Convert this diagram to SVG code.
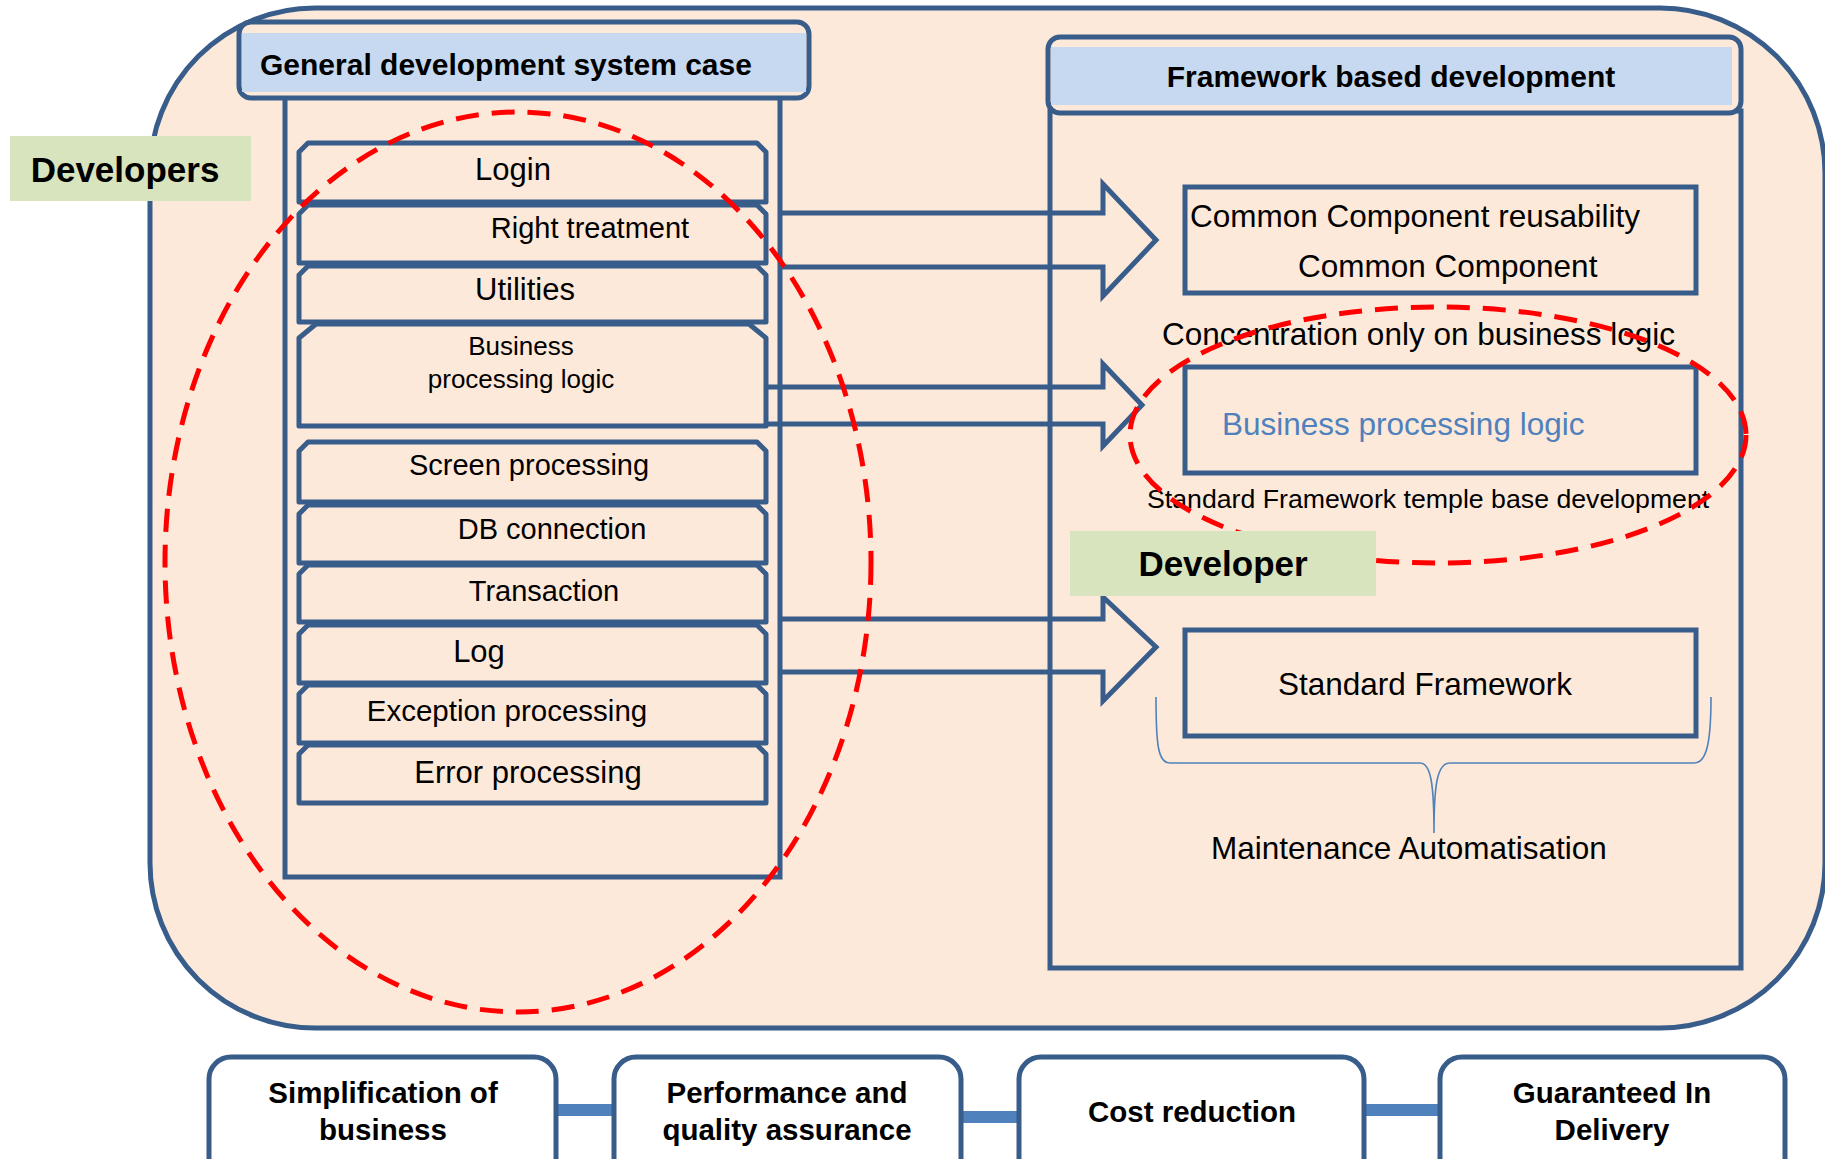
<svg xmlns="http://www.w3.org/2000/svg" width="1825" height="1159" viewBox="0 0 1825 1159">
<style>
  .bd{fill:#FDE9D9;stroke:#385D8A;stroke-width:5;stroke-linejoin:round}
  .ln{fill:none;stroke:#385D8A;stroke-width:5;stroke-linejoin:miter}
  .hd{fill:#C6D9F1}
  .lab{fill:#D7E4BD}
  .t{font-family:"Liberation Sans",Arial,sans-serif;fill:#000}
  .b{font-weight:bold}
  .red{fill:none;stroke:#FF0000;stroke-width:5;stroke-dasharray:23 13}
  .wb{fill:#FFFFFF;stroke:#385D8A;stroke-width:5}
  .bar{stroke:#4F81BD;stroke-width:12}
</style>
<rect width="1825" height="1159" fill="#FFFFFF"/>
<g id="background">
  <rect class="bd" x="150" y="8" width="1675" height="1020" rx="165" ry="165"/>
</g>
<g id="left-panel">
  <path class="ln" d="M285,98 L285,877 L780,877 L780,98"/>
  <rect class="bd" x="239" y="22" width="570" height="76" rx="12"/>
  <rect class="hd" x="242" y="33" width="564" height="59"/>
  <text class="t b" x="260" y="75" font-size="30">General development system case</text>
</g>
<g id="right-panel">
  <rect class="ln" x="1050" y="111" width="691" height="857"/>
  <rect class="bd" x="1048" y="37" width="693" height="76" rx="12"/>
  <rect class="hd" x="1051" y="47" width="681" height="58"/>
  <text class="t b" x="1391" y="87" font-size="30" text-anchor="middle">Framework based development</text>
</g>
<g id="item-login">
  <path class="bd" d="M299,202 L299,152 L308,143 L757,143 L766,152 L766,202 Z"/>
  <text class="t" x="513" y="180" font-size="31" text-anchor="middle">Login</text>
</g>
<g id="item-right-treatment">
  <path class="bd" d="M299,263 L299,214 L308,205 L757,205 L766,214 L766,263 Z"/>
  <text class="t" x="590" y="238" font-size="29" text-anchor="middle">Right treatment</text>
</g>
<g id="item-utilities">
  <path class="bd" d="M299,322 L299,275 L308,266 L757,266 L766,275 L766,322 Z"/>
  <text class="t" x="525" y="300" font-size="31" text-anchor="middle">Utilities</text>
</g>
<g id="item-business-logic">
  <path class="bd" d="M299,426 L299,338 L316,324 L749,324 L766,338 L766,426 Z"/>
  <text class="t" x="521" y="355" font-size="26" text-anchor="middle">Business</text>
  <text class="t" x="521" y="388" font-size="26" text-anchor="middle">processing logic</text>
</g>
<g id="item-screen">
  <path class="bd" d="M299,502 L299,451 L308,442 L757,442 L766,451 L766,502 Z"/>
  <text class="t" x="529" y="475" font-size="29" text-anchor="middle">Screen processing</text>
</g>
<g id="item-db">
  <path class="bd" d="M299,563 L299,514 L308,505 L757,505 L766,514 L766,563 Z"/>
  <text class="t" x="552" y="539" font-size="29" text-anchor="middle">DB connection</text>
</g>
<g id="item-transaction">
  <path class="bd" d="M299,622 L299,574 L308,565 L757,565 L766,574 L766,622 Z"/>
  <text class="t" x="544" y="601" font-size="29" text-anchor="middle">Transaction</text>
</g>
<g id="item-log">
  <path class="bd" d="M299,683 L299,634 L308,625 L757,625 L766,634 L766,683 Z"/>
  <text class="t" x="479" y="662" font-size="31" text-anchor="middle">Log</text>
</g>
<g id="item-exception">
  <path class="bd" d="M299,743 L299,694 L308,685 L757,685 L766,694 L766,743 Z"/>
  <text class="t" x="507" y="721" font-size="29.5" text-anchor="middle">Exception processing</text>
</g>
<g id="item-error">
  <path class="bd" d="M299,803 L299,754 L308,745 L757,745 L766,754 L766,803 Z"/>
  <text class="t" x="528" y="783" font-size="31" text-anchor="middle">Error processing</text>
</g>
<g id="connectors">
  <path class="ln" d="M780,213 L1103,213 L1103,184 L1156,240 L1103,296 L1103,267 L780,267"/>
  <path class="ln" d="M766,387 L1103,387 L1103,364 L1142,405 L1103,446 L1103,424 L766,424"/>
  <path class="ln" d="M780,619 L1103,619 L1103,597 L1156,647 L1103,701 L1103,672 L780,672"/>
  <path d="M1156,697 C1156,745 1158,763 1170,763 L1420,763 C1431,763 1434,785 1434,833 C1434,785 1437,763 1450,763 L1694,763 C1706,763 1711,745 1711,697" fill="none" stroke="#4F81BD" stroke-width="1.6"/>
  <line class="bar" x1="555" y1="1110" x2="614" y2="1110"/>
  <line class="bar" x1="960" y1="1117" x2="1020" y2="1117"/>
  <line class="bar" x1="1365" y1="1110" x2="1440" y2="1110"/>
</g>
<g id="common-component">
  <rect class="ln" x="1185" y="187" width="511" height="106"/>
  <text class="t" x="1190" y="227" font-size="31.5">Common Component reusability</text>
  <text class="t" x="1298" y="277" font-size="31.5">Common Component</text>
</g>
<g id="concentration-label">
  <text class="t" x="1162" y="345" font-size="31.5">Concentration only on business logic</text>
</g>
<g id="business-logic-box">
  <rect class="ln" x="1185" y="367" width="511" height="106"/>
  <text class="t" x="1222" y="435" font-size="31.5" style="fill:#4F81BD">Business processing logic</text>
</g>
<g id="template-label">
  <text class="t" x="1147" y="508" font-size="26.7">Standard Framework temple base development</text>
</g>
<g id="standard-framework">
  <rect class="ln" x="1185" y="630" width="511" height="106"/>
  <text class="t" x="1278" y="695" font-size="31.5">Standard Framework</text>
</g>
<g id="maintenance-label">
  <text class="t" x="1211" y="859" font-size="31.5">Maintenance Automatisation</text>
</g>
<g id="red-circles">
  <ellipse class="red" cx="518" cy="562" rx="353" ry="450"/>
  <ellipse class="red" cx="1438" cy="435" rx="308" ry="128"/>
</g>
<g id="developers-label">
  <rect class="lab" x="10" y="136" width="241" height="65"/>
  <text class="t b" x="125" y="182" font-size="35" text-anchor="middle">Developers</text>
</g>
<g id="developer-label">
  <rect class="lab" x="1070" y="531" width="306" height="65"/>
  <text class="t b" x="1223" y="576" font-size="35" text-anchor="middle">Developer</text>
</g>
<g id="box-simplification">
  <rect class="wb" x="209" y="1057" width="347" height="130" rx="22"/>
  <text class="t b" x="383" y="1103" font-size="29.5" text-anchor="middle">Simplification of</text>
  <text class="t b" x="383" y="1140" font-size="29.5" text-anchor="middle">business</text>
</g>
<g id="box-performance">
  <rect class="wb" x="614" y="1057" width="347" height="130" rx="22"/>
  <text class="t b" x="787" y="1103" font-size="29.5" text-anchor="middle">Performance and</text>
  <text class="t b" x="787" y="1140" font-size="29.5" text-anchor="middle">quality assurance</text>
</g>
<g id="box-cost">
  <rect class="wb" x="1019" y="1057" width="345" height="130" rx="22"/>
  <text class="t b" x="1192" y="1122" font-size="29.5" text-anchor="middle">Cost reduction</text>
</g>
<g id="box-delivery">
  <rect class="wb" x="1440" y="1057" width="345" height="130" rx="22"/>
  <text class="t b" x="1612" y="1103" font-size="29.5" text-anchor="middle">Guaranteed In</text>
  <text class="t b" x="1612" y="1140" font-size="29.5" text-anchor="middle">Delivery</text>
</g>
</svg>
